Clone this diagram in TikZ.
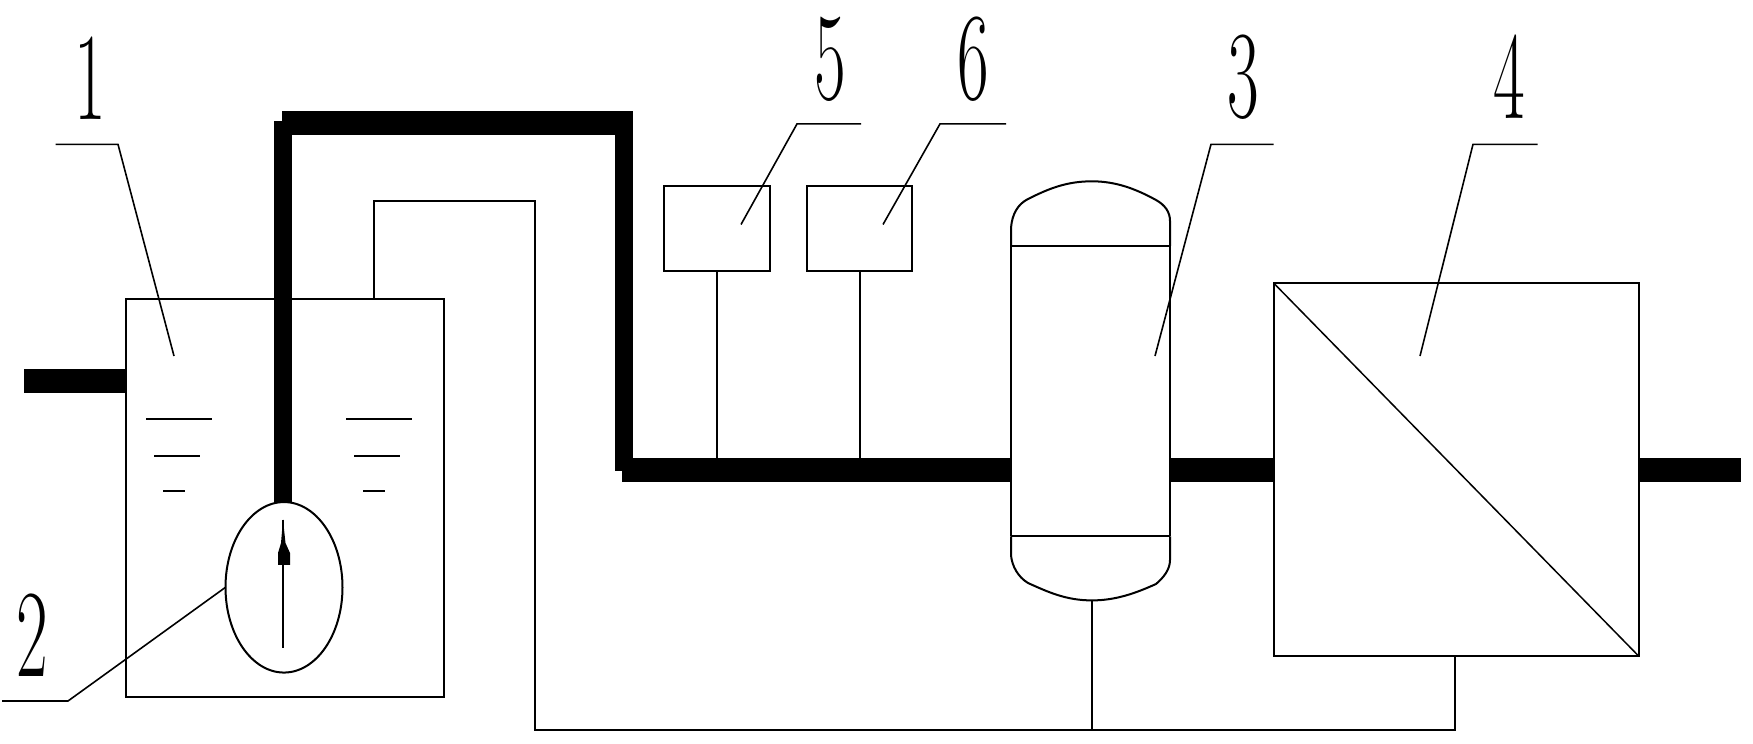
\documentclass[tikz,border=0pt]{standalone}
\usetikzlibrary{shapes.geometric}
\tikzset{
  unitbox/.style={draw=black,line width=2pt,inner sep=0pt,outer sep=0pt,fill=none},
  thin line/.style={draw=black,line width=2pt},
  pipeh/.style={draw=black,line width=24pt},
  pipev/.style={draw=black,line width=18pt},
  leader/.style={draw=black,line width=1.6pt},
  water/.style={draw=black,line width=1.6pt},
  digit/.style={inner sep=0pt,xscale=.55,transform shape,font=\fontsize{125}{125}\selectfont}
}
\begin{document}
\begin{tikzpicture}[x=1pt,y=-1pt]
\useasboundingbox[fill=white] (0,0) rectangle (1753,744);
% main units
\node[unitbox,minimum width=318pt,minimum height=397.7pt] (tank) at (285,497.85) {};
\node[unitbox,minimum width=106pt,minimum height=84.5pt] (five) at (717,228.3) {};
\node[unitbox,minimum width=105pt,minimum height=84.5pt] (six) at (859.5,228.3) {};
\node[unitbox,minimum width=365pt,minimum height=373pt] (memb) at (1456,469.4) {};
\node[unitbox,ellipse,minimum width=117pt,minimum height=170.5pt] (pump) at (284,587.3) {};
% vessel 3
\coordinate (vtl) at (1011,245.8);
\coordinate (vtr) at (1170,245.8);
\coordinate (vbl) at (1011,536.3);
\coordinate (vbr) at (1170,536.3);
\coordinate (vbot) at (1092,600.4);
\draw[thin line] (vtl) -- (vbl) (vtr) -- (vbr) (vtl) -- (vtr) (vbl) -- (vbr);
\draw[thin line] (vtl) -- (1011,228) .. controls (1012,214) and (1018,204) .. (1028,199)
  .. controls (1048,189) and (1066,181.3) .. (1092,181.3)
  .. controls (1116,181.3) and (1136,189) .. (1156,200)
  .. controls (1165,205) and (1170,212) .. (1170,221) -- (vtr);
\draw[thin line] (vbl) -- (1011,555.3) .. controls (1012,566) and (1018,577) .. (1028,583)
  .. controls (1048,592) and (1066,600.4) .. (vbot)
  .. controls (1116,600.4) and (1136,593) .. (1156,584)
  .. controls (1163,578) and (1170,570) .. (1170,560) -- (vbr);
% thick pipes
\coordinate (inlet) at (24,380.6);
\coordinate (tlin) at (tank.west |- inlet);
\draw[pipeh] (inlet) -- (tlin);
\coordinate (a1) at (283,121);
\coordinate (a2) at (282,123.4);
\coordinate (a3) at (633,123.4);
\coordinate (a4) at (624,111.5);
\coordinate (a5) at (624,471.3);
\coordinate (a6) at (622,469.6);
\coordinate (v3l) at (1011,469.6);
\coordinate (v3r) at (1170,469.6);
\coordinate (outlet) at (1741,469.6);
\draw[pipev] (a1) -- (a1 |- pump.north);
\draw[pipeh] (a2) -- (a3);
\draw[pipev] (a4) -- (a5);
\draw[pipeh] (a6) -- (v3l);
\draw[pipeh] (v3r) -- (memb.west |- v3r);
\draw[pipeh] (memb.east |- outlet) -- (outlet);
% thin lines
\coordinate (r0) at (374,200.8);
\draw[thin line] (r0 |- tank.north) -- (r0) -- (535,200.8) -- (535,730) -- (1455,730) -- (1455,656);
\draw[thin line] (vbot) -- (1092,730);
\draw[thin line] (five.south) -- (five.south |- a6);
\draw[thin line] (six.south) -- (six.south |- a6);
\draw[line width=1.5pt] (memb.north west) -- (memb.south east);
% water marks
\foreach \o in {0,200}{
  \draw[water] (146+\o,419) -- (212+\o,419);
  \draw[water] (154+\o,456) -- (200+\o,456);
  \draw[water] (163+\o,491.2) -- (185+\o,491.2);
}
% pump needle
\draw[line width=1.5pt] (283,519.7) -- (283,647.8);
\fill (283,519.7) -- (285.5,543) -- (290,553) -- (290,564.8) -- (278,564.8) -- (278,553) -- (281,543) -- cycle;
% leaders
\draw[leader] (55.5,144.3) -- (118,144.3) -- (174,356);
\draw[leader] (2,701) -- (68,701) -- (pump.west);
\draw[leader] (861,123.9) -- (797,123.9) -- (741,224.5);
\draw[leader] (1006,123.9) -- (940,123.9) -- (883,224.5);
\draw[leader] (1273.5,144.3) -- (1211,144.3) -- (1155,356);
\draw[leader] (1537.5,144.3) -- (1473,144.3) -- (1420,356);
% digits
\node[digit] (n1) at (90,78) {1};
\node[digit] (n2) at (32.5,635.5) {2};
\node[digit] (n5) at (830,59) {5};
\node[digit] (n6) at (973,59) {6};
\node[digit] (n3) at (1243,77) {3};
\node[digit] (n4) at (1509,77) {4};
\end{tikzpicture}
\end{document}
